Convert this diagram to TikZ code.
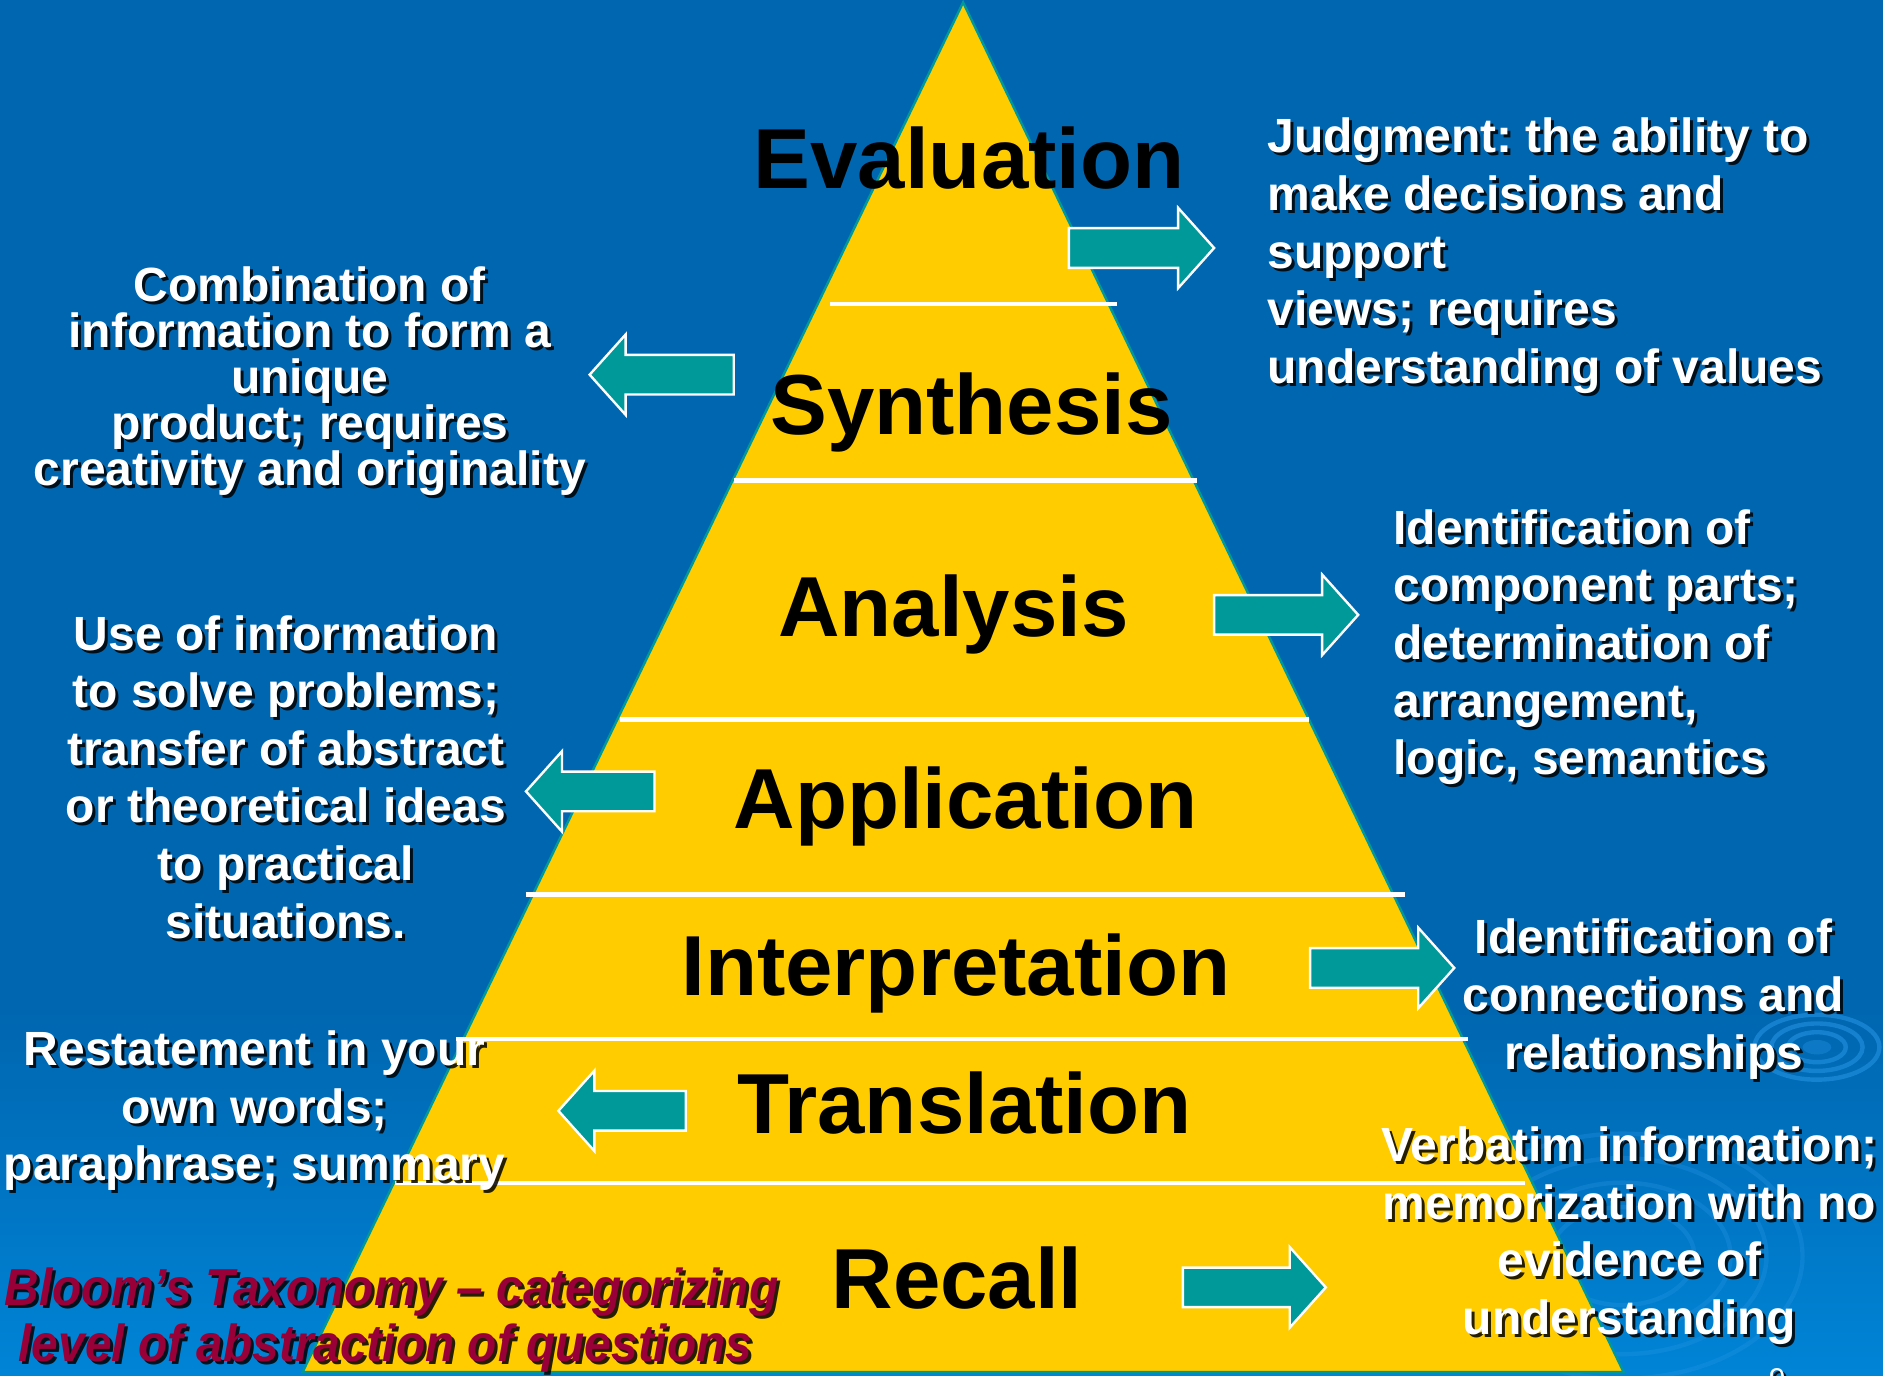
\documentclass[tikz,border=0pt]{standalone}
\usepackage{fontspec}
\setmainfont{Liberation Sans}
\newfontfamily\capfont[FakeStretch=0.92]{Liberation Sans}

\definecolor{bgdark}{RGB}{0,102,176}
\definecolor{bglight}{RGB}{0,132,214}
\definecolor{pyramid}{RGB}{255,204,0}
\definecolor{teal}{RGB}{0,153,153}
\definecolor{ripple}{RGB}{40,150,230}
\definecolor{crimson}{RGB}{153,0,56}

% block arrow: tail x, tip x, centre y
\newcommand\blockarrow[3]{%
  \pgfmathsetmacro\hb{#2-30*sign(#2-#1)}%
  \filldraw[blockarr] (#1,#3-16.5) -- (\hb,#3-16.5) -- (\hb,#3-33.5) -- (#2,#3)
    -- (\hb,#3+33.5) -- (\hb,#3+16.5) -- (#1,#3+16.5) -- cycle;
}
% white text with a dark drop shadow: name, position, options, text
\newcommand\shadowtext[4]{%
  \node[#3, text=black, opacity=0.85, xshift=1.5pt, yshift=-1.5pt] at #2 {#4};
  \node[#3, text=white] (#1) at #2 {#4};
}

\begin{document}
\lineskiplimit=-30pt
\frenchspacing
\begin{tikzpicture}[x=0.60045pt, y=-0.60045pt,
  leveltext/.style={font=\bfseries\fontsize{42.6}{51}\selectfont, inner sep=0pt, anchor=base, text=black},
  desctext/.style={font=\bfseries\fontsize{24}{28.8}\selectfont, inner sep=0pt},
  tightdesc/.style={font=\bfseries\fontsize{24}{23}\selectfont, inner sep=0pt},
  captext/.style={font=\capfont\bfseries\itshape\fontsize{26}{28.2}\selectfont, inner sep=0pt},
  blockarr/.style={fill=teal, draw=white, line width=1.2pt},
  sepline/.style={draw=white, line width=2.2pt},
  ring/.style={draw=ripple, line width=2.2pt, opacity=0.55}]

\useasboundingbox (0,0) rectangle (1568,1145);
\clip (0,0) rectangle (1568,1145);

% background
\fill[bgdark] (0,0) rectangle (1568,1145);
\shade[top color=bgdark, bottom color=bglight] (0,840) rectangle (1568,1145);

% faint ripples
\fill[ripple, opacity=0.35] (1513,872) ellipse [x radius=12, y radius=6];
\foreach \r in {24,38,52}
  \draw[ring] (1513,872) ellipse [x radius=\r, y radius=0.52*\r];
\foreach \r in {60,90,120,150}
  \draw[ring, opacity=0.3] (1351,1046) ellipse [x radius=\r, y radius=0.68*\r];

% pyramid
\filldraw[fill=pyramid, draw=teal, line width=1.2pt] (802,2) -- (1352,1142.5) -- (252,1142.5) -- cycle;

% level separators
\draw[sepline] (691,253) -- (930,253);
\draw[sepline] (611,400) -- (997,400);
\draw[sepline] (516,599) -- (1090,599);
\draw[sepline] (438,745) -- (1170,745);
\draw[sepline] (380,865) -- (1222,865);
\draw[sepline] (329,985) -- (1270,985);

% level names
\node[leveltext] (evaluation) at (807,157) {Evaluation};
\node[leveltext] (synthesis) at (809,362) {Synthesis};
\node[leveltext] (analysis) at (794,530) {Analysis};
\node[leveltext] (application) at (804,690) {Application};
\node[leveltext] (interpretation) at (796,829) {Interpretation};
\node[leveltext] (translation) at (803,944) {Translation};
\node[leveltext] (recall) at (797,1090) {Recall};

% arrows
\blockarrow{890}{1011}{206.5}
\blockarrow{611}{491}{312}
\blockarrow{1011}{1131}{512}
\blockarrow{545}{438}{659}
\blockarrow{1091}{1211}{806}
\blockarrow{571}{465}{925}
\blockarrow{985}{1104}{1072}

% descriptions
\shadowtext{judgment}{(1055,98)}{desctext, anchor=north west, align=left}
  {Judgment: the ability to\\make decisions and\\support\\views; requires\\understanding of values}
\shadowtext{combination}{(258,222)}{tightdesc, anchor=north, align=center}
  {Combination of\\information to form a\\unique\\product; requires\\creativity and originality}
\shadowtext{useinfo}{(238,512)}{desctext, anchor=north, align=center}
  {Use of information\\to solve problems;\\transfer of abstract\\or theoretical ideas\\to practical\\situations.}
\shadowtext{components}{(1160,424)}{desctext, anchor=north west, align=left}
  {Identification of\\component parts;\\determination of\\arrangement,\\logic, semantics}
\shadowtext{connections}{(1377,765)}{desctext, anchor=north, align=center}
  {Identification of\\connections and\\relationships}
\shadowtext{restatement}{(212,858)}{desctext, anchor=north, align=center}
  {Restatement in your\\own words;\\paraphrase; summary}
\shadowtext{verbatim}{(1357,938)}{desctext, anchor=north, align=center}
  {Verbatim information;\\memorization with no\\evidence of\\understanding}

% caption
\node[captext, text=black, opacity=0.85, anchor=north, align=center, xshift=1.5pt, yshift=-1.5pt] at (326,1055)
  {Bloom’s Taxonomy – categorizing\\level of abstraction of questions\hspace*{6pt}};
\node[captext, text=crimson, anchor=north, align=center] (caption) at (326,1055)
  {Bloom’s Taxonomy – categorizing\\level of abstraction of questions\hspace*{6pt}};

% page number
\shadowtext{pagenum}{(1480,1139)}{font=\fontsize{15}{18}\selectfont, inner sep=0pt, anchor=north}{9}

\end{tikzpicture}
\end{document}
